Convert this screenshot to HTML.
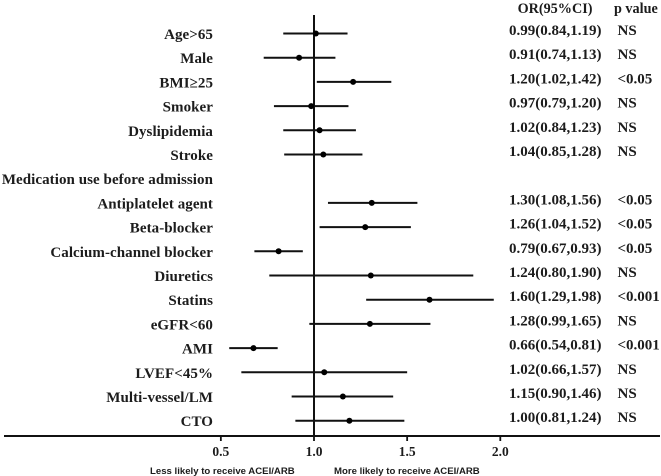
<!DOCTYPE html>
<html>
<head>
<meta charset="utf-8">
<style>
html,body{margin:0;padding:0;background:#fff;width:661px;height:476px;overflow:hidden}
svg{display:block}
.t{font-family:"Liberation Serif","DejaVu Serif",serif;font-weight:bold;font-size:15px;fill:#1c1c1c}
.h{font-size:14.2px}
.k{font-size:13.5px}
.r{letter-spacing:0.06px}
.s{font-family:"Liberation Sans",Arial,sans-serif;font-weight:bold;font-size:9.6px;fill:#1c1c1c}
</style>
</head>
<body>
<svg id="chart" width="661" height="476" viewBox="0 0 661 476" xmlns="http://www.w3.org/2000/svg">
  <text class="t h" x="555" y="13" text-anchor="middle">OR(95%CI)</text>
  <text class="t h" x="614" y="13">p value</text>
  <text class="s" x="150" y="474">Less likely to receive ACEI/ARB</text>
  <text class="s" x="334" y="474">More likely to receive ACEI/ARB</text>
</svg>
<script>
const categories = ["Age>65","Male","BMI≥25","Smoker","Dyslipidemia","Stroke","Medication use before admission","Antiplatelet agent","Beta-blocker","Calcium-channel blocker","Diuretics","Statins","eGFR<60","AMI","LVEF<45%","Multi-vessel/LM","CTO"];
const point = [1.01,0.92,1.21,0.985,1.03,1.05,null,1.31,1.275,0.81,1.305,1.62,1.30,0.675,1.055,1.155,1.19];
const lower = [0.835,0.73,1.015,0.785,0.835,0.84,null,1.075,1.03,0.68,0.76,1.28,0.975,0.545,0.61,0.88,0.90];
const upper = [1.18,1.115,1.415,1.185,1.225,1.26,null,1.555,1.52,0.94,1.855,1.965,1.625,0.805,1.50,1.425,1.485];
const orText = ["0.99(0.84,1.19)","0.91(0.74,1.13)","1.20(1.02,1.42)","0.97(0.79,1.20)","1.02(0.84,1.23)","1.04(0.85,1.28)","","1.30(1.08,1.56)","1.26(1.04,1.52)","0.79(0.67,0.93)","1.24(0.80,1.90)","1.60(1.29,1.98)","1.28(0.99,1.65)","0.66(0.54,0.81)","1.02(0.66,1.57)","1.15(0.90,1.46)","1.00(0.81,1.24)"];
const pText = ["NS","NS","<0.05","NS","NS","NS","","<0.05","<0.05","<0.05","NS","<0.001","NS","<0.001","NS","NS","NS"];
const xTicks = [0.5,1.0,1.5,2.0];

const svg = document.getElementById('chart');
const NS = 'http://www.w3.org/2000/svg';
function xScale(v){ return 314 + (v - 1) * 186.3; }
function yScale(i){ return 33.5 + i * 24.2; }
function make(tag, attrs){
  const el = document.createElementNS(NS, tag);
  for (const k in attrs) el.setAttribute(k, attrs[k]);
  svg.appendChild(el);
  return el;
}

const axisLine = make('line',{x1:4,x2:660,y1:436,y2:436,stroke:'#111','stroke-width':2});



const refLine = make('line',{x1:xScale(1),x2:xScale(1),y1:15,y2:436,stroke:'#111','stroke-width':2});



xTicks.forEach(function(v){
  const tick = make('line',{x1:xScale(v),x2:xScale(v),y1:436,y2:441,stroke:'#111','stroke-width':1.8});
  
  
  const lab = make('text',{x:xScale(v),y:456,'text-anchor':'middle','class':'t k'});
  lab.textContent = v.toFixed(1);
  
  
});

categories.forEach(function(c, i){
  const y = yScale(i);
  const lab = make('text',{x:213,y:y+5.5,'text-anchor':'end','class':'t r'});
  lab.textContent = c;
  
  
  if (point[i] === null) return;
  const ci = make('line',{x1:xScale(lower[i]),x2:xScale(upper[i]),y1:y,y2:y,stroke:'#111','stroke-width':2});
  
  
  const dot = make('circle',{cx:xScale(point[i]),cy:y,r:3,fill:'#000'});
  
  
  const or = make('text',{x:509,y:y+1.5,'class':'t'});
  or.textContent = orText[i];
  
  
  const p = make('text',{x:617.5,y:y+1.5,'class':'t'});
  p.textContent = pText[i];
  
  
});
</script>
</body>
</html>
